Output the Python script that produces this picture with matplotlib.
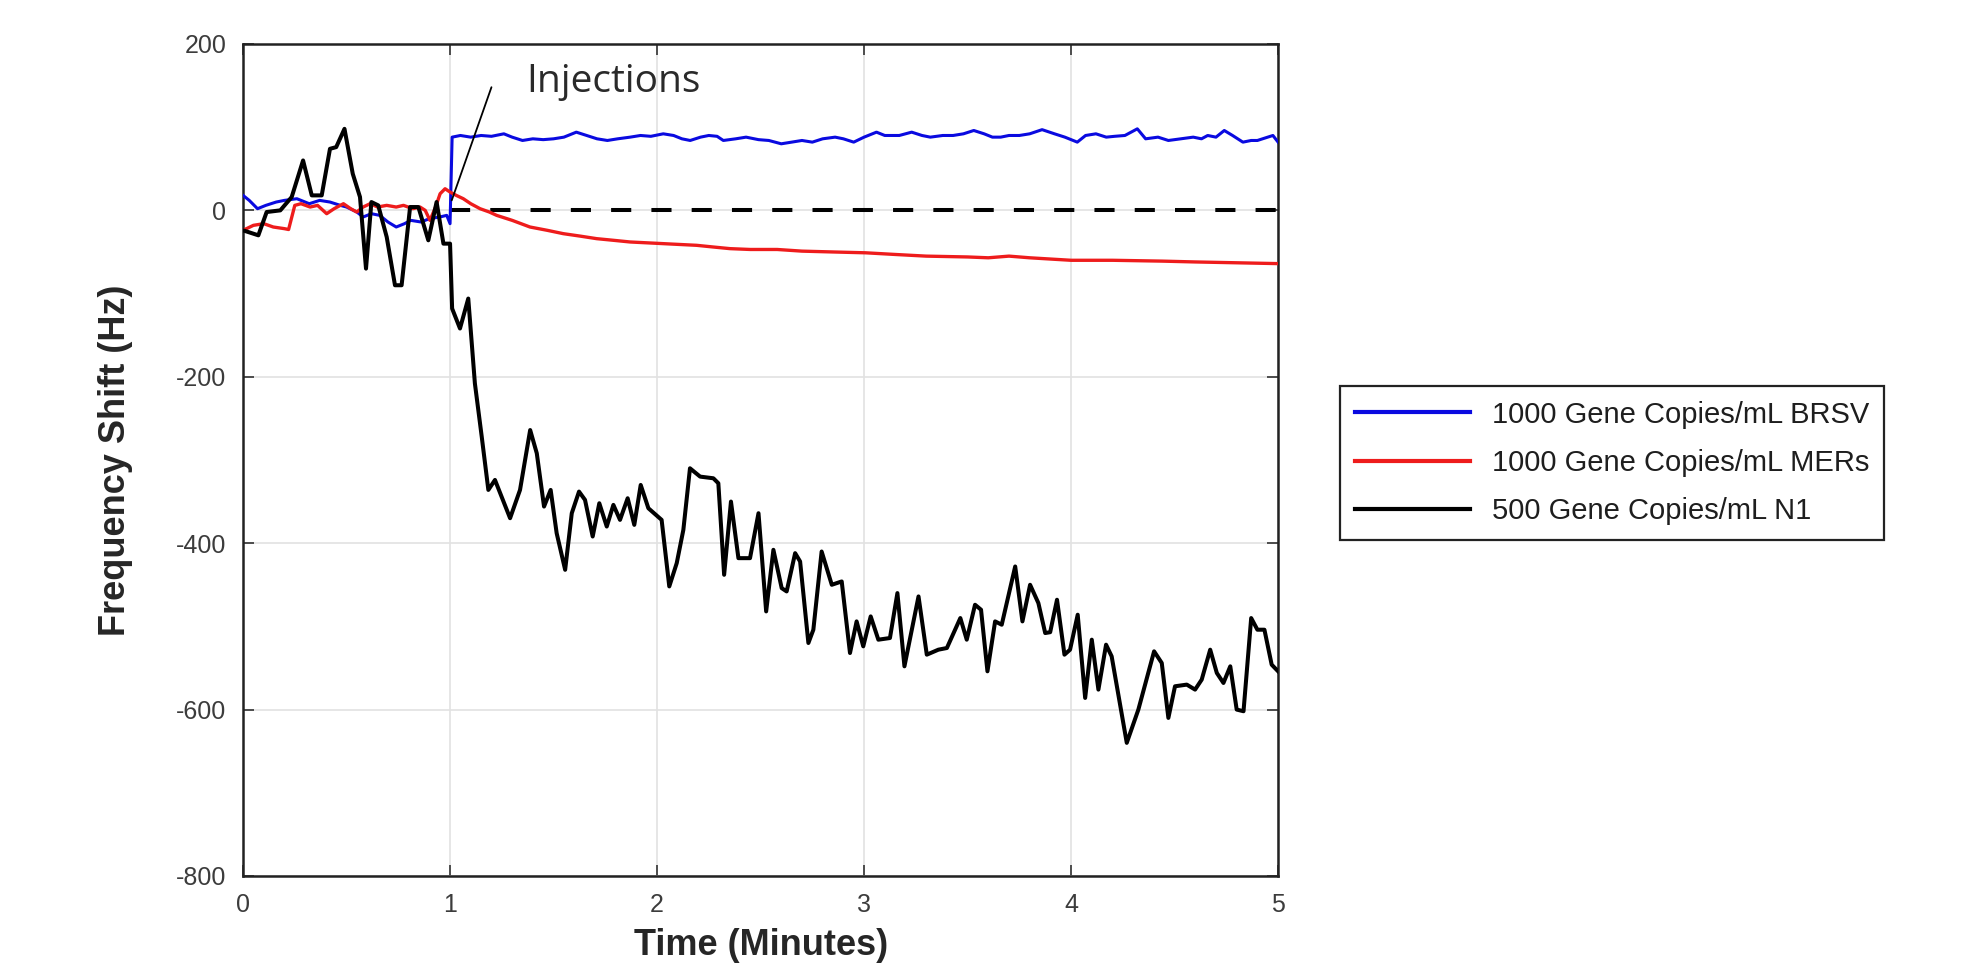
import matplotlib
matplotlib.use("Agg")
import matplotlib.pyplot as plt

# BRSV (blue)
brsv_t = [0.0, 0.03, 0.07, 0.11, 0.16, 0.2, 0.26, 0.32, 0.37, 0.42, 0.47, 0.5, 0.55, 0.58, 0.62,
          0.66, 0.7, 0.74, 0.78, 0.81, 0.86, 0.9, 0.95, 0.984, 1.0, 1.01, 1.05, 1.1, 1.15, 1.2,
          1.26, 1.3, 1.35, 1.4, 1.45, 1.5, 1.55, 1.61, 1.66, 1.71, 1.76, 1.81, 1.87, 1.92, 1.97,
          2.03, 2.08, 2.12, 2.16, 2.21, 2.25, 2.29, 2.32, 2.38, 2.43, 2.49, 2.54, 2.6, 2.65, 2.7,
          2.75, 2.8, 2.86, 2.9, 2.95, 3.0, 3.06, 3.1, 3.17, 3.23, 3.28, 3.32, 3.38, 3.43, 3.48,
          3.53, 3.58, 3.62, 3.66, 3.7, 3.75, 3.8, 3.86, 3.92, 3.97, 4.03, 4.07, 4.12, 4.17, 4.21,
          4.26, 4.32, 4.36, 4.42, 4.47, 4.53, 4.59, 4.63, 4.66, 4.7, 4.74, 4.78, 4.83, 4.87, 4.9,
          4.95, 4.975, 5.0]
brsv_hz = [18, 12, 2, 6, 10, 12, 14, 8, 12, 10, 6, 4, -2, -8, -4,
           -6, -14, -20, -16, -12, -14, -10, -8, -6, -16, 88, 90, 88, 90, 89,
           92, 88, 84, 86, 85, 86, 88, 94, 90, 86, 84, 86, 88, 90, 89,
           92, 90, 86, 84, 88, 90, 89, 84, 86, 88, 85, 84, 80, 82, 84,
           82, 86, 88, 86, 82, 88, 94, 90, 90, 94, 90, 88, 90, 90, 92,
           96, 92, 88, 88, 90, 90, 92, 97, 92, 88, 82, 90, 92, 88, 89,
           90, 98, 86, 88, 84, 86, 88, 86, 90, 88, 96, 90, 82, 84, 84,
           88, 90, 82]

# MERs (red)
mers_t = [0.0, 0.05, 0.1, 0.146, 0.2, 0.22, 0.25, 0.28, 0.324, 0.36, 0.404, 0.44, 0.485, 0.52,
          0.549, 0.58, 0.614, 0.65, 0.694, 0.74, 0.775, 0.82, 0.855, 0.88, 0.903, 0.93, 0.952,
          0.976, 1.0, 1.03, 1.064, 1.1, 1.145, 1.19, 1.225, 1.3, 1.386, 1.47, 1.547, 1.63, 1.708,
          1.79, 1.87, 1.95, 2.03, 2.11, 2.191, 2.27, 2.352, 2.45, 2.58, 2.7, 2.85, 3.007, 3.15,
          3.3, 3.5, 3.6, 3.7, 3.8, 4.0, 4.2, 4.44, 4.6, 4.8, 5.0]
mers_hz = [-24, -18, -16, -20, -22, -23, 6, 8, 4, 6, -4, 2, 8, 2,
           -2, 4, 8, 4, 6, 4, 6, 2, 4, 0, -12, 4, 20,
           26, 22, 18, 14, 8, 2, -2, -6, -12, -20, -24, -28, -31, -34,
           -36, -38, -39, -40, -41, -42, -44, -46, -47, -47, -49, -50, -51, -53,
           -55, -56, -57, -55, -57, -60, -60, -61, -62, -63, -64]

# N1 (black)
n1_t = [0.0, 0.074, 0.114, 0.18, 0.235, 0.29, 0.332, 0.38, 0.42, 0.45, 0.49, 0.53, 0.565, 0.594,
        0.62, 0.653, 0.694, 0.734, 0.766, 0.807, 0.847, 0.895, 0.935, 0.968, 1.0, 1.01, 1.048,
        1.088, 1.12, 1.153, 1.185, 1.217, 1.29, 1.338, 1.387, 1.419, 1.454, 1.486, 1.515, 1.556,
        1.588, 1.623, 1.652, 1.689, 1.721, 1.757, 1.789, 1.821, 1.858, 1.89, 1.921, 1.958, 2.022,
        2.059, 2.095, 2.127, 2.159, 2.208, 2.272, 2.296, 2.324, 2.357, 2.393, 2.449, 2.49, 2.527,
        2.562, 2.602, 2.626, 2.667, 2.691, 2.731, 2.755, 2.795, 2.844, 2.892, 2.932, 2.964, 2.996,
        3.032, 3.069, 3.125, 3.161, 3.195, 3.263, 3.303, 3.359, 3.4, 3.465, 3.496, 3.536, 3.565,
        3.596, 3.633, 3.665, 3.73, 3.765, 3.802, 3.842, 3.875, 3.899, 3.932, 3.968, 3.995, 4.032,
        4.068, 4.1, 4.132, 4.169, 4.196, 4.269, 4.325, 4.401, 4.438, 4.47, 4.502, 4.559, 4.599,
        4.631, 4.672, 4.704, 4.736, 4.769, 4.8, 4.833, 4.87, 4.9, 4.934, 4.969, 5.0]
n1_hz = [-24, -30, -2, 0, 16, 60, 18, 18, 74, 76, 98, 44, 16, -70,
         10, 6, -32, -90, -90, 4, 4, -36, 10, -40, -40, -118, -142,
         -106, -208, -272, -336, -324, -370, -336, -264, -292, -356, -336, -388, -432,
         -364, -338, -348, -392, -352, -380, -354, -372, -346, -378, -330, -358, -372,
         -452, -424, -384, -310, -320, -322, -328, -438, -350, -418, -418, -364, -482,
         -408, -454, -458, -412, -422, -520, -504, -410, -450, -446, -532, -494, -524,
         -488, -516, -514, -460, -548, -464, -534, -528, -526, -490, -516, -474, -480,
         -554, -494, -498, -428, -494, -450, -472, -508, -507, -468, -534, -528, -486,
         -586, -516, -576, -522, -536, -640, -600, -530, -544, -610, -572, -570, -576,
         -564, -528, -556, -568, -548, -600, -602, -490, -504, -504, -546, -554]

baseline_t = [1, 5]
baseline_hz = [0, 0]

labels = ["1000 Gene Copies/mL BRSV", "1000 Gene Copies/mL MERs", "500 Gene Copies/mL N1"]

plt.rcParams['font.family'] = ['Liberation Sans', 'DejaVu Sans']
plt.rcParams['axes.unicode_minus'] = False

fig = plt.figure(figsize=(19.84, 9.64), dpi=100)
ax = fig.add_axes([0.1225, 0.0913, 0.5217, 0.8631])

ax.plot(brsv_t, brsv_hz, color='#0a0ae0', lw=2.2, label=labels[0], zorder=3)
ax.plot(mers_t, mers_hz, color='#ee1c1c', lw=2.4, label=labels[1], zorder=3)
ax.plot(n1_t, n1_hz, color='black', lw=2.9, label=labels[2], zorder=4)
ax.plot(baseline_t, baseline_hz, color='black', lw=2.9, dashes=(5, 5), zorder=2)

# injection pointer and label
ax.annotate("", xy=(1.008, 12), xytext=(1.2, 148),
            arrowprops=dict(arrowstyle='-', color='black', lw=1.3, shrinkA=0, shrinkB=0))
ax.text(1.37, 142, "Injections", fontsize=28, family='Open Sans', color='#2a2a2a',
        va='baseline', ha='left')

ax.set_xlim(0, 5)
ax.set_ylim(-800, 200)
ax.set_xticks([0, 1, 2, 3, 4, 5])
ax.set_yticks([-800, -600, -400, -200, 0, 200])
ax.grid(True, color='#e2e2e2', lw=1.2)
ax.set_axisbelow(True)
ax.tick_params(direction='in', length=8, width=1.2, top=True, right=True,
               labelsize=18, labelcolor='#3c3c3c', color='#333333', pad=12)
for s in ax.spines.values():
    s.set_linewidth(1.8)
    s.set_color('#222222')

ax.set_xlabel("Time (Minutes)", fontsize=26, fontweight='bold', color='#262626', labelpad=8)
ax.set_ylabel("Frequency Shift (Hz)", fontsize=26, fontweight='bold', color='#262626', labelpad=31)

leg = ax.legend(loc='upper left', bbox_to_anchor=(0.6754, 0.5996), bbox_transform=fig.transFigure,
                borderaxespad=0, fontsize=21, frameon=True, fancybox=False, framealpha=1,
                handlelength=3.95, handletextpad=0.75, labelspacing=0.7, borderpad=0.5)
leg.get_frame().set_edgecolor('#222222')
leg.get_frame().set_linewidth(1.6)
for line in leg.get_lines():
    line.set_linewidth(3)
for txt in leg.get_texts():
    txt.set_color('#1e1e1e')

fig.savefig("out.png", dpi=100)
